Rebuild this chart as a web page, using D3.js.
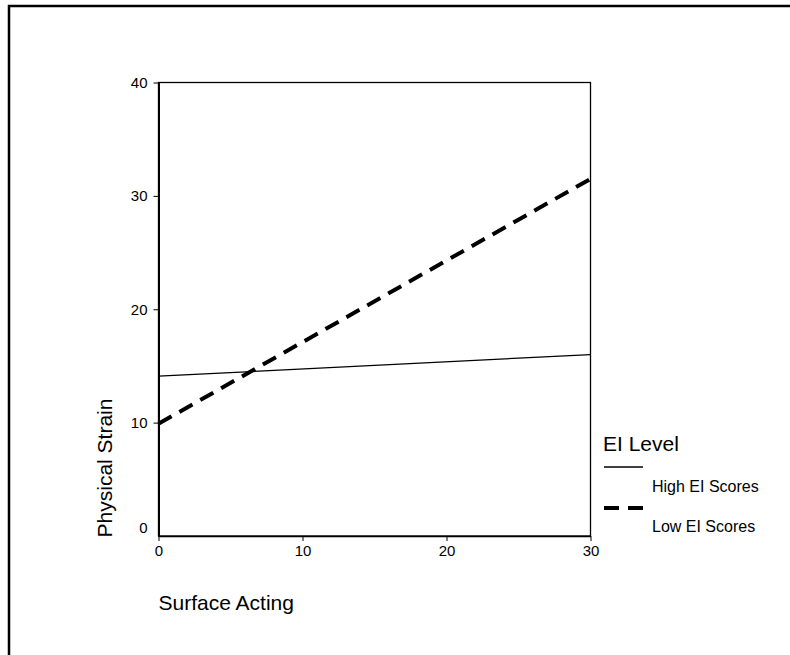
<!DOCTYPE html>
<html>
<head>
<meta charset="utf-8">
<script src="https://cdn.jsdelivr.net/npm/d3@7"></script>
<style>
  body { margin: 0; background: #fff; }
  svg { display: block; font-family: "Liberation Sans", Arial, sans-serif; }
</style>
</head>
<body>
<svg></svg>
<script>
// chart data
let xTicks = [0, 10, 20, 30];
let yTicks = [0, 10, 20, 30, 40];
let surfaceActing = [0, 30];
let highEI = [14.1, 16.0];
let lowEI = [9.9, 31.5];
let seriesNames = ['High EI Scores', 'Low EI Scores'];

let width = 790, height = 655;
let plotLeft = 158.5, plotRight = 590.5, plotTop = 82.5, plotBottom = 536;

let svg = d3.select('svg').attr('width', width).attr('height', height);

// outer frame (only left and top visible)
svg.append('rect')
    .attr('x', 9).attr('y', 6)
    .attr('width', 800).attr('height', 700)
    .attr('fill', 'none').attr('stroke', '#000').attr('stroke-width', 2.5);

let xScale = d3.scaleLinear().domain([0, 30]).range([plotLeft, plotRight]);
let yScale = d3.scaleLinear().domain([0, 40]).range([plotBottom, plotTop]);

// plot box
svg.append('rect')
    .attr('x', plotLeft).attr('y', plotTop)
    .attr('width', plotRight - plotLeft).attr('height', plotBottom - plotTop)
    .attr('fill', 'none').attr('stroke', '#000').attr('stroke-width', 1.3);

// axes
let xAxis = d3.axisBottom(xScale).tickValues(xTicks).tickSize(5).tickPadding(4).tickSizeOuter(0);
let gx = svg.append('g').attr('transform', `translate(0, ${plotBottom})`).call(xAxis);
gx.attr('font-size', null).attr('font-family', null);
gx.select('.domain').attr('stroke-width', 1.5);
gx.selectAll('.tick text').style('font-size', '15px').style('fill', '#000');

let yAxis = d3.axisLeft(yScale).tickValues(yTicks).tickSize(5).tickPadding(6).tickSizeOuter(0);
let gy = svg.append('g').attr('transform', `translate(${plotLeft}, 0)`).call(yAxis);
gy.attr('font-size', null).attr('font-family', null);
gy.select('.domain').attr('stroke-width', 2);
gy.selectAll('.tick text').style('font-size', '15px').style('fill', '#000');
// zero label sits slightly above the axis, with no tick
gy.selectAll('.tick').filter(d => d === 0).select('text').attr('y', -8);
gy.selectAll('.tick').filter(d => d === 0).select('line').remove();

// lines
let line = d3.line().x(d => xScale(d[0])).y(d => yScale(d[1]));

svg.append('path')
    .datum(surfaceActing.map((x, i) => [x, highEI[i]]))
    .attr('d', line)
    .attr('fill', 'none').attr('stroke', '#000').attr('stroke-width', 1.3);

svg.append('path')
    .datum(surfaceActing.map((x, i) => [x, lowEI[i]]))
    .attr('d', line)
    .attr('fill', 'none').attr('stroke', '#000').attr('stroke-width', 4)
    .attr('stroke-dasharray', '15,9');

// axis titles
svg.append('text')
    .attr('x', plotLeft).attr('y', 610)
    .attr('font-size', 21).text('Surface Acting');

svg.append('text')
    .attr('transform', 'translate(112, 468) rotate(-90)')
    .attr('text-anchor', 'middle')
    .attr('font-size', 21).text('Physical Strain');

// legend
let legend = svg.append('g');
legend.append('text').attr('x', 603).attr('y', 451).attr('font-size', 21).text('EI Level');

legend.append('line')
    .attr('x1', 604).attr('x2', 643).attr('y1', 467).attr('y2', 467)
    .attr('stroke', '#000').attr('stroke-width', 1.3);
legend.append('text').attr('x', 652).attr('y', 492).attr('font-size', 16).text(seriesNames[0]);

legend.append('line')
    .attr('x1', 604).attr('x2', 643).attr('y1', 508).attr('y2', 508)
    .attr('stroke', '#000').attr('stroke-width', 4)
    .attr('stroke-dasharray', '15,9');
legend.append('text').attr('x', 652).attr('y', 532).attr('font-size', 16).text(seriesNames[1]);
</script>
</body>
</html>
